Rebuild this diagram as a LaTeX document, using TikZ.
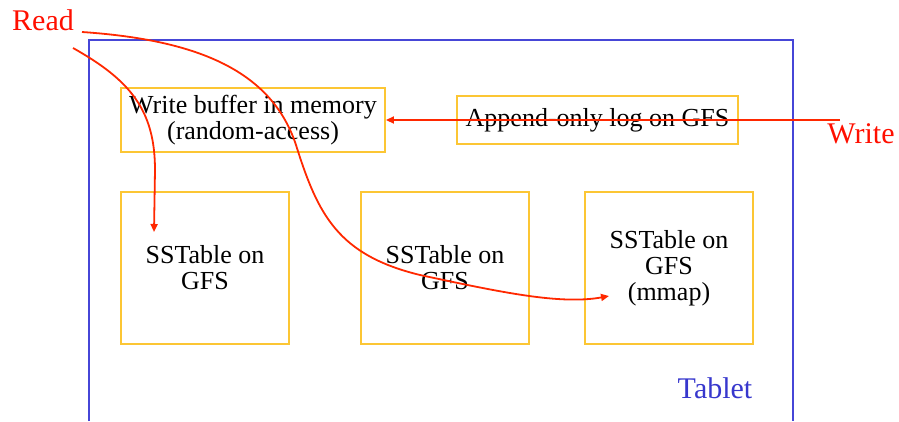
\documentclass[tikz,border=0pt]{standalone}
\usepackage{fontspec}
\setmainfont{Liberation Serif}
\usetikzlibrary{arrows.meta}
\definecolor{boxy}{RGB}{252,198,52}
\definecolor{tabblue}{RGB}{70,70,215}
\definecolor{tabtext}{RGB}{55,55,205}
\definecolor{arrred}{RGB}{255,40,0}
\definecolor{lblred}{RGB}{255,15,0}
\begin{document}
\begin{tikzpicture}[x=1pt,y=-1pt,
  ybox/.style={draw=boxy,line width=1.9pt,inner sep=0pt,align=center,
    font=\fontsize{26}{26}\selectfont},
  lbl/.style={font=\fontsize{30}{30}\selectfont,inner sep=0pt},
  rarrow/.style={draw=arrred,line width=1.8pt,-{Triangle[length=8pt,width=7pt]}}]
\useasboundingbox (0,0) rectangle (899,421);
% tablet frame
\draw[tabblue,line width=2pt] (89,421) -- (89,40) -- (793,40) -- (793,421);
\node[lbl,text=tabtext] (tablet) at (715,388) {Tablet};
% boxes
\node[ybox,minimum width=264pt,minimum height=64pt] (buf) at (253,120) {Write buffer in memory\\(random-access)};
\node[ybox,minimum width=281pt,minimum height=48pt] (log) at (597.5,120) {Append-only log on GFS};
\node[ybox,minimum width=168pt,minimum height=152pt] (ss1) at (205,268) {SSTable on\\GFS};
\node[ybox,minimum width=168pt,minimum height=152pt] (ss2) at (445,268) {SSTable on\\GFS};
\node[ybox,minimum width=168pt,minimum height=152pt] (ss3) at (669,268) {SSTable on\\GFS\\(mmap)};
% labels
\node[lbl,text=lblred] (read) at (43,20) {Read};
\node[lbl,text=lblred] (write) at (861,134) {Write};
\coordinate (wstart) at (840,120);
\coordinate (r1) at (73,48);
\coordinate (r2) at (82,32);
\coordinate (t1) at (154,232);
\coordinate (t3) at (609,296);
% arrows
\draw[rarrow] (wstart) -- (buf.east);
\draw[rarrow] (r1) .. controls (130,80) and (155,110) .. (155,170) -- (t1);
\draw[rarrow] (r2) .. controls (200,40) and (272,72) .. (296,145)
  .. controls (318,215) and (338,255) .. (420,275)
  .. controls (500,292) and (560,305) .. (t3);
\end{tikzpicture}
\end{document}
